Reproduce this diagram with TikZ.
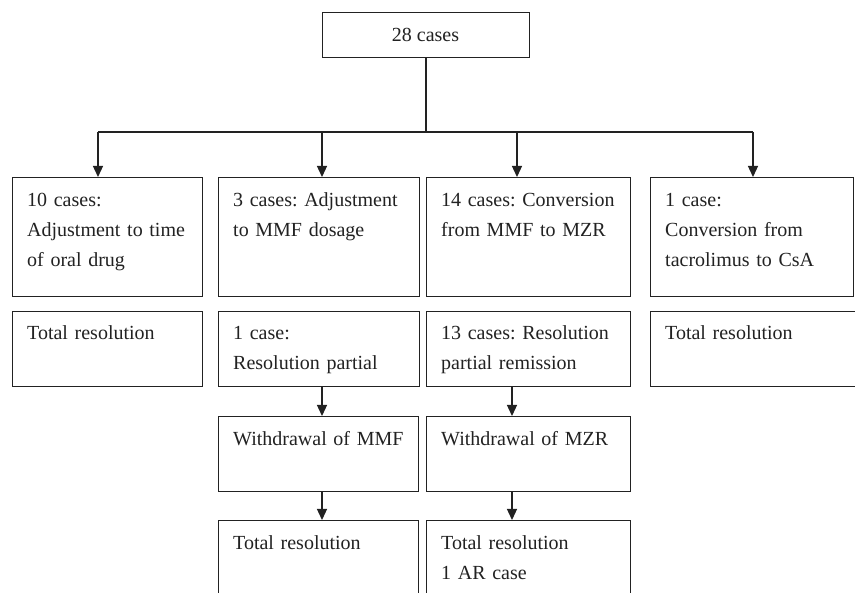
\documentclass[tikz,border=0pt]{standalone}
\usepackage{fontspec}
\setmainfont{Liberation Serif}
\usetikzlibrary{arrows.meta}
\definecolor{ink}{HTML}{222222}
\frenchspacing
\tikzset{
  x=1pt, y=-1pt,
  boxn/.style={draw=ink, line width=1.3pt, rectangle, inner sep=0pt, anchor=north west},
  lbl/.style={inner sep=0pt, anchor=base west, text=ink, align=left, text width=#1,
    font=\fontsize{20}{30}\selectfont\frenchspacing},
  lbl/.default=185pt,
  conn/.style={draw=ink, line width=1.3pt},
  arr/.style={conn, -{Triangle[length=11pt,width=10pt]}}
}
\begin{document}
\begin{tikzpicture}
\clip (0,0) rectangle (855,593);
\fill[white] (0,0) rectangle (855,593);
% top
\node[boxn, minimum width=207pt, minimum height=45pt] (top) at (322,12) {};
\node[inner sep=0pt, anchor=base, text=ink, font=\fontsize{20}{30}\selectfont] (ttop) at (425.5,42) {28 cases};
% row 1
\node[boxn, minimum width=190pt, minimum height=119pt] (b1) at (12,177) {};
\node[boxn, minimum width=201pt, minimum height=119pt] (b2) at (218,177) {};
\node[boxn, minimum width=204pt, minimum height=119pt] (b3) at (426,177) {};
\node[boxn, minimum width=203pt, minimum height=119pt] (b4) at (650,177) {};
\node[lbl] (tb1) at (27,207) {10 cases:\\Adjustment to time\\of oral drug};
\node[lbl] (tb2) at (233,207) {3 cases: Adjustment\\to MMF dosage};
\node[lbl] (tb3) at (441,207) {14 cases: Conversion\\from MMF to MZR};
\node[lbl] (tb4) at (665,207) {1 case:\\Conversion from\\tacrolimus to CsA};
% row 2
\node[boxn, minimum width=190pt, minimum height=75pt] (r1) at (12,311) {};
\node[boxn, minimum width=201pt, minimum height=75pt] (r2) at (218,311) {};
\node[boxn, minimum width=204pt, minimum height=75pt] (r3) at (426,311) {};
\node[boxn, minimum width=220pt, minimum height=75pt] (r4) at (650,311) {};
\node[lbl] (tr1) at (27,340) {Total resolution};
\node[lbl] (tr2) at (233,340) {1 case:\\Resolution partial};
\node[lbl] (tr3) at (441,340) {13 cases: Resolution\\partial remission};
\node[lbl] (tr4) at (665,340) {Total resolution};
% row 3
\node[boxn, minimum width=200pt, minimum height=75pt] (w2) at (218,416) {};
\node[boxn, minimum width=204pt, minimum height=75pt] (w3) at (426,416) {};
\node[lbl] (tw2) at (233,446) {Withdrawal of MMF};
\node[lbl] (tw3) at (441,446) {Withdrawal of MZR};
% row 4
\node[boxn, minimum width=200pt, minimum height=100pt] (f2) at (218,520) {};
\node[boxn, minimum width=204pt, minimum height=100pt] (f3) at (426,520) {};
\node[lbl] (tf2) at (233,550) {Total resolution};
\node[lbl] (tf3) at (441,550) {Total resolution\\1 AR case};
% connectors
\coordinate (hub) at (426,132);
\coordinate (c1) at (98,132);
\coordinate (c2) at (322,132);
\coordinate (c3) at (517,132);
\coordinate (c4) at (753,132);
\coordinate (d2) at (322,0);
\coordinate (d3) at (512,0);
\draw[conn] (top.south -| hub) -- (hub);
\draw[conn] (c1) -- (c4);
\draw[arr] (c1) -- (c1 |- b1.north);
\draw[arr] (c2) -- (c2 |- b2.north);
\draw[arr] (c3) -- (c3 |- b3.north);
\draw[arr] (c4) -- (c4 |- b4.north);
\draw[arr] (d2 |- r2.south) -- (d2 |- w2.north);
\draw[arr] (d3 |- r3.south) -- (d3 |- w3.north);
\draw[arr] (d2 |- w2.south) -- (d2 |- f2.north);
\draw[arr] (d3 |- w3.south) -- (d3 |- f3.north);
\end{tikzpicture}
\end{document}
